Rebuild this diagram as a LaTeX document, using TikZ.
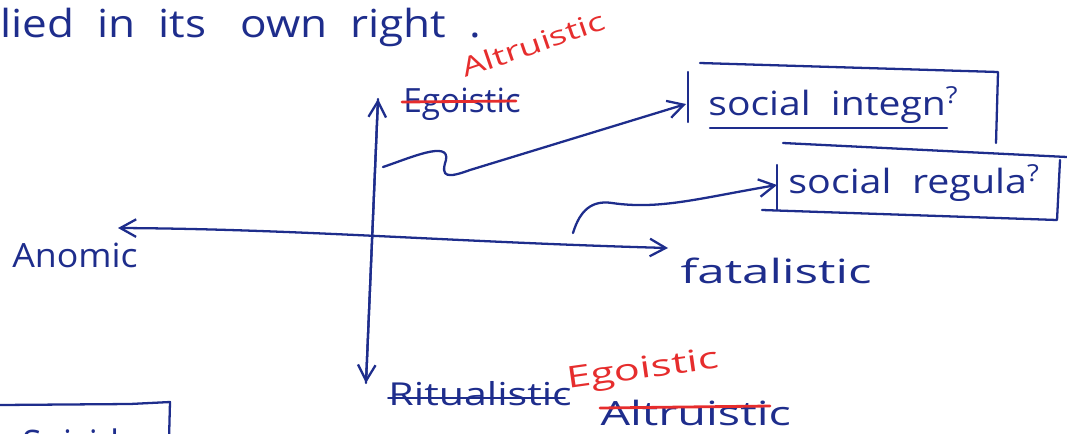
\documentclass[tikz,border=0pt]{standalone}
\usepackage{fontspec}
\setmainfont{Open Sans}
\usetikzlibrary{arrows.meta,calc}
\definecolor{ink}{RGB}{30,45,140}
\definecolor{redink}{RGB}{230,45,45}
\tikzset{
  pen/.style={draw=ink, line width=1.3pt, line cap=round, line join=round},
  redpen/.style={draw=redink, line width=1.6pt, line cap=round},
  arr/.style={pen, -{Straight Barb[length=9pt,width=10pt,line width=1.3pt]}},
  dblarr/.style={pen, {Straight Barb[length=9pt,width=10pt,line width=1.3pt]}-{Straight Barb[length=9pt,width=10pt,line width=1.3pt]}},
  hw/.style={text=ink, inner sep=0pt, font=\fontsize{19}{22}\selectfont},
  rhw/.style={text=redink, inner sep=0pt, font=\fontsize{17}{20}\selectfont},
}
\begin{document}
\begin{tikzpicture}[x=0.02cm, y=-0.02cm]
\useasboundingbox (0,0) rectangle (1067,433);
\clip (0,0) rectangle (1067,433);
% top line of text
\node[hw, anchor=base west, font=\fontsize{22}{24}\selectfont, xscale=1.14] (top) at (0,37) {lied\ \ in\ \ its\ \ \ own\ \ right\ \ .};
% red annotation above Egoistic
\node[rhw, font=\fontsize{15}{18}\selectfont, rotate=19, xscale=1.4] (altr) at (533,44) {Altruistic};
% axis labels
\node[hw, anchor=base west] (ego) at (403,112) {Egoistic};
\node[hw, anchor=base west, xscale=1.07] (anomic) at (12,267) {Anomic};
\node[hw, anchor=base west, xscale=1.48] (fatal) at (680,283) {fatalistic};
\node[hw, anchor=base west, font=\fontsize{18}{20}\selectfont, xscale=1.3] (ritual) at (388,405) {Ritualistic};
\node[hw, anchor=base west, xscale=1.4] (altb) at (600,425) {Altruistic};
\node[rhw, rotate=8, xscale=1.45] (egor) at (643,371) {Egoistic};
% strike-throughs
\draw[redpen] (402,102) coordinate (es1) -- (516,101) coordinate (es2);
\draw[redpen] (600,408) coordinate (as1) -- (770,406) coordinate (as2);
\draw[pen, line width=1pt] (388,398) coordinate (rs1) -- (565,398) coordinate (rs2);
% axes
\coordinate (vtop) at (378,99);
\coordinate (vbot) at (366,383);
\draw[arr] (vbot) -- (vtop);
\draw[arr] (vtop) -- (vbot);
\coordinate (hl) at (118,228);
\coordinate (hr) at (668,248);
\draw[dblarr] (hl) .. controls (300,229) and (450,242) .. (hr);
% boxes
\node[hw, anchor=base west, xscale=1.17] (integ) at (708,115) {social\ \ integn\textsuperscript{?}};
\draw[pen] (688,72) -- (688,122);
\draw[pen] (700,63) -- (998,72) -- (996,143);
\draw[pen] (710,128) -- (947,128);
\node[hw, anchor=base west, xscale=1.18] (regul) at (788,193) {social\ \ regula\textsuperscript{?}};
\draw[pen] (783,143) -- (1067,157);
\draw[pen] (777,165) -- (777,210);
\draw[pen] (762,210) -- (1057,220) -- (1060,160);
% squiggly arrows
\coordinate (s1) at (383,167);
\coordinate (t1) at (686,104);
\draw[arr] (s1) .. controls (410,158) and (450,140) .. (446,160)
  .. controls (440,178) and (448,178) .. (470,170) -- (t1);
\coordinate (s2) at (573,233);
\coordinate (t2) at (777,185);
\draw[arr] (s2) .. controls (580,210) and (592,200) .. (612,203)
  .. controls (660,210) and (700,198) .. (t2);
% bottom-left partial box
\draw[pen] (0,405) -- (130,404) -- (170,402) -- (169,440);
\node[hw, anchor=base west, font=\fontsize{20}{22}\selectfont] (suic) at (22,455) {Suicide};
\end{tikzpicture}
\end{document}
